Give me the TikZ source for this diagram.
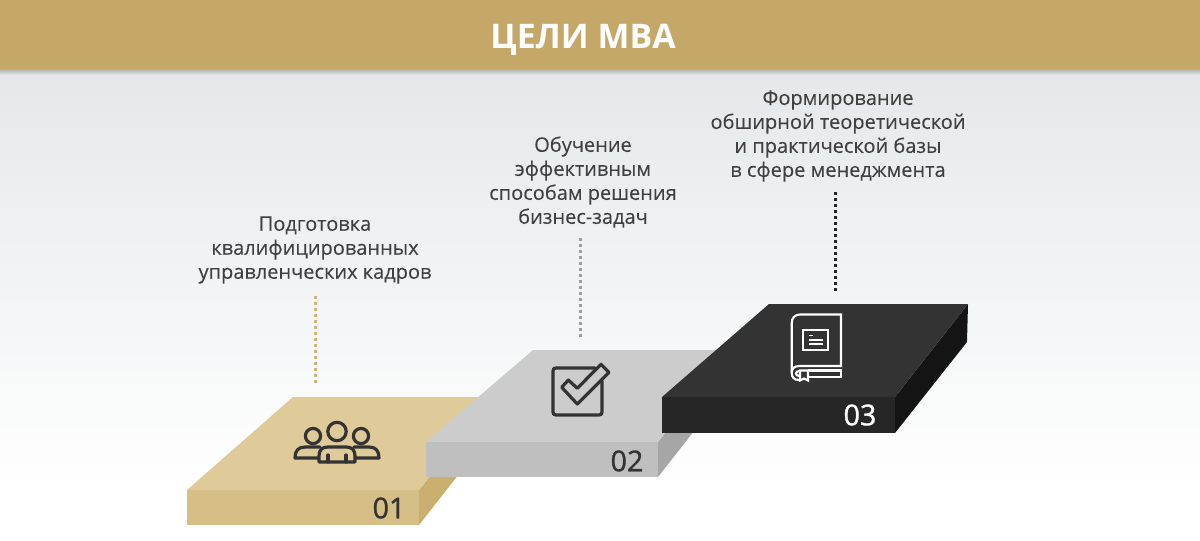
\documentclass[tikz,border=0pt]{standalone}
\usepackage{fontspec}
\setmainfont{Open Sans}
\newfontfamily\numfont[FakeBold=1.2]{Open Sans}
\newfontfamily\goalfont[FakeBold=0.1]{Open Sans}
\definecolor{band}{HTML}{C5A767}
\definecolor{bgtop}{HTML}{E5E8EA}
\definecolor{txt}{HTML}{404040}
\definecolor{goldtop}{HTML}{DFCA9A}
\definecolor{goldfront}{HTML}{D6BE87}
\definecolor{goldside}{HTML}{CBAF6E}
\definecolor{greytop}{HTML}{CCCCCC}
\definecolor{greyfront}{HTML}{BFBFBF}
\definecolor{greyside}{HTML}{A6A6A6}
\definecolor{darktop}{HTML}{333333}
\definecolor{darkfront}{HTML}{262626}
\definecolor{darkside}{HTML}{141414}
\tikzset{
  x=0.75pt,y=-0.75pt,
  goaltext/.style={align=center,text=txt,font=\goalfont\fontsize{15pt}{18pt}\selectfont,inner sep=0pt},
  numlabel/.style={font=\numfont\fontsize{21.5pt}{24pt}\selectfont,inner sep=0pt},
  leader/.style={line width=2.25pt,dash pattern=on 2.4pt off 2.1pt},
  iconline/.style={line width=2.4pt,line join=round,line cap=round},
  thinicon/.style={line width=1.6pt,color=white,line join=miter}
}
\begin{document}
\begin{tikzpicture}
\useasboundingbox (0,0) rectangle (1200,540);
\fill[white] (0,0) rectangle (1200,540);
\shade[top color=bgtop,bottom color=white] (0,72) rectangle (1200,490);
\shade[top color=black!35,bottom color=bgtop] (0,68) rectangle (1200,75);
\fill[band] (0,0) rectangle (1200,69);
\node[text=white,inner sep=0pt,font=\fontsize{25.4pt}{30pt}\selectfont\bfseries] (title) at (583,40) {ЦЕЛИ МВА};

% plate 1
\fill[goldside] (419,490) -- (492,397) -- (492,432) -- (419,525) -- cycle;
\fill[goldtop] (187,490) -- (293,397) -- (492,397) -- (419,490) -- cycle;
\fill[goldfront] (187,490) rectangle (419,525);
% plate 2
\fill[greyside] (658,442) -- (730,350) -- (730,385) -- (658,477) -- cycle;
\fill[greytop] (426,442) -- (533,350) -- (730,350) -- (658,442) -- cycle;
\fill[greyfront] (426,442) rectangle (658,477);
% plate 3
\fill[darkside] (895,397) -- (968,304) -- (967,342) -- (895,433) -- cycle;
\fill[darktop] (662,397) -- (769,304) -- (968,304) -- (895,397) -- cycle;
\fill[darkfront] (662,397) rectangle (895,433);

\node[numlabel,text=darktop] (n1) at (389,508) {01};
\node[numlabel,text=darktop] (n2) at (627,461) {02};
\node[numlabel,text=white] (n3) at (860,415) {03};

\node[goaltext] (t1) at (315,250) {Подготовка\\квалифицированных\\управленческих кадров};
\node[goaltext] (t2) at (583,182) {Обучение\\эффективным\\способам решения\\бизнес-задач};
\node[goaltext] (t3) at (838,136) {Формирование\\обширной теоретической\\и практической базы\\в сфере менеджмента};

\coordinate (a1) at (315,296); \coordinate (b1) at (315,384);
\coordinate (a2) at (580,238); \coordinate (b2) at (580,339);
\coordinate (a3) at (835,192); \coordinate (b3) at (835,292);
\draw[leader,color=band!85!white] (a1) -- (b1);
\draw[leader,color=black!38] (a2) -- (b2);
\draw[leader,color=darkfront] (a3) -- (b3);

% people icon
\begin{scope}[iconline,color=darktop]
\draw (313,436) circle[radius=7.6];
\draw (361,436) circle[radius=7.6];
\fill[goldtop] (337,431.5) circle[radius=9.5];
\draw (337,431.5) circle[radius=9.2];
\draw (318,458) -- (295,458) .. controls (295,451) and (298,447) .. (305,447) -- (320,447);
\draw (354,447) -- (369,447) .. controls (376,447) and (379,451) .. (379,458) -- (356,458);
\fill[goldtop] (319,461) -- (319,456) .. controls (319,450) and (322,447) .. (328,447) -- (346,447) .. controls (352,447) and (355,450) .. (355,456) -- (355,462) -- cycle;
\draw (319,462) -- (319,456) .. controls (319,450) and (322,447) .. (328,447) -- (346,447) .. controls (352,447) and (355,450) .. (355,456) -- (355,462) -- cycle;
\draw (328,455) -- (328,462);
\draw (346,455) -- (346,462);
\end{scope}

% check icon
\begin{scope}[iconline,color=darktop]
\draw (595,368) -- (556,368) .. controls (554,368) and (553,369) .. (553,371) -- (553,412) .. controls (553,414) and (554,415) .. (556,415) -- (599,415) .. controls (601,415) and (602,414) .. (602,412) -- (602,381);
\draw (561.7,387.3) -- (568.3,380) -- (577.3,388.3) -- (601,364.3) -- (609,372.3) -- (577.3,404) -- cycle;
\end{scope}

% book icon
\begin{scope}[thinicon]
\draw (841,367) -- (841,314.5) -- (800,314.5) .. controls (795,314.5) and (791.7,318) .. (791.7,323) -- (791.7,372);
\draw (841,366) -- (799,366) .. controls (794,366) and (791.7,369) .. (791.7,373) .. controls (791.7,377) and (794,380) .. (799,380);
\draw (841,369) -- (841,377) -- (808,377);
\draw (841,370.5) -- (808,370.5);
\draw (800,371) .. controls (797,371) and (796,372) .. (796,373.5) .. controls (796,375) and (797,376) .. (800,376);
\draw (800,370.5) -- (800,380.5) -- (804,378.5) -- (808,380.5) -- (808,370.5) -- cycle;
\draw (803.3,330) rectangle (828.3,350);
\draw[line width=1.1pt] (809,335.7) -- (813,335.7);
\draw[line width=1.1pt] (809,340) -- (823,340);
\draw[line width=1.1pt] (809,344) -- (823,344);
\end{scope}
\end{tikzpicture}
\end{document}
